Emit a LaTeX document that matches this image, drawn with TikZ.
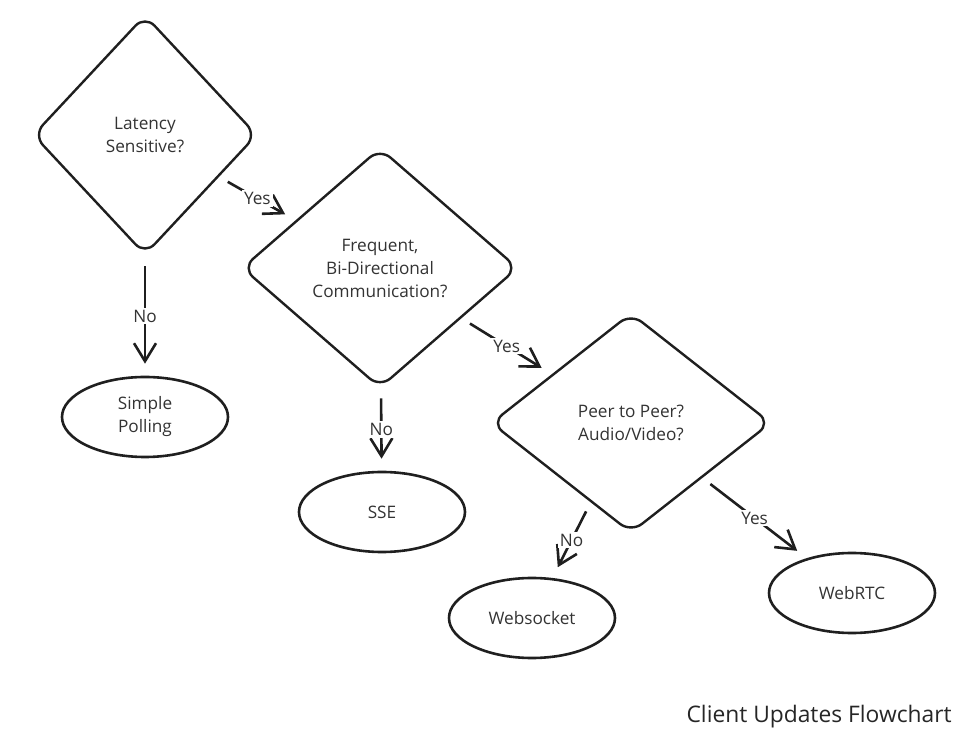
\documentclass[tikz,border=0pt]{standalone}
\usepackage{fontspec}
\setmainfont{Open Sans}
\usepackage{tikz}
\usetikzlibrary{arrows.meta}
\usetikzlibrary{shapes.geometric}
\colorlet{ink}{black!88}
\colorlet{txt}{black!80}
\tikzstyle{decide}=[diamond,draw=ink,line width=1.2pt,rounded corners=7pt,inner sep=0pt,align=center,text=txt,font=\fontsize{8.6}{11.5}\selectfont]
\tikzstyle{leaf}=[ellipse,draw=ink,line width=1.3pt,minimum width=83pt,minimum height=40pt,inner sep=0pt,align=center,text=txt,font=\fontsize{8.6}{11.5}\selectfont]
\tikzstyle{flow}=[line width=1.3pt,draw=ink,-{Straight Barb[length=9pt,width=11pt]},shorten <=5pt,shorten >=6pt]
\tikzstyle{ans}=[fill=white,inner sep=1pt,text=txt,font=\fontsize{8.6}{10}\selectfont]

\begin{document}
\begin{tikzpicture}[x=0.5pt,y=-0.5pt]
	\useasboundingbox (0,0) rectangle (969,742);
	\node[decide,minimum width=112pt,minimum height=120pt] (A) at (145,135) {Latency\\Sensitive?};
	\node[decide,minimum width=138pt,minimum height=120pt] (B) at (380,268) {Frequent,\\Bi-Directional\\Communication?};
	\node[decide,minimum width=140pt,minimum height=110pt] (C) at (631,423) {Peer to Peer?\\Audio/Video?};
	\node[leaf] (D) at (145,417) {Simple\\Polling};
	\node[leaf] (E) at (382,512) {SSE};
	\node[leaf] (F) at (532,618) {Websocket};
	\node[leaf] (G) at (852,593) {WebRTC};
	\draw[flow] (A) --node[ans]{Yes} (B);
	\draw[flow] (A) --node[ans]{No}  (D);
	\draw[flow] (B) --node[ans]{Yes} (C);
	\draw[flow] (B) --node[ans]{No}  (E);
	\draw[flow] (C) --node[ans]{No}  (F);
	\draw[flow] (C) --node[ans]{Yes} (G);
	\node[anchor=east,inner sep=0pt,text=black!85,font=\fontsize{11.4}{13}\selectfont] (H) at (952,717) {Client Updates Flowchart};
\end{tikzpicture}
\end{document}
